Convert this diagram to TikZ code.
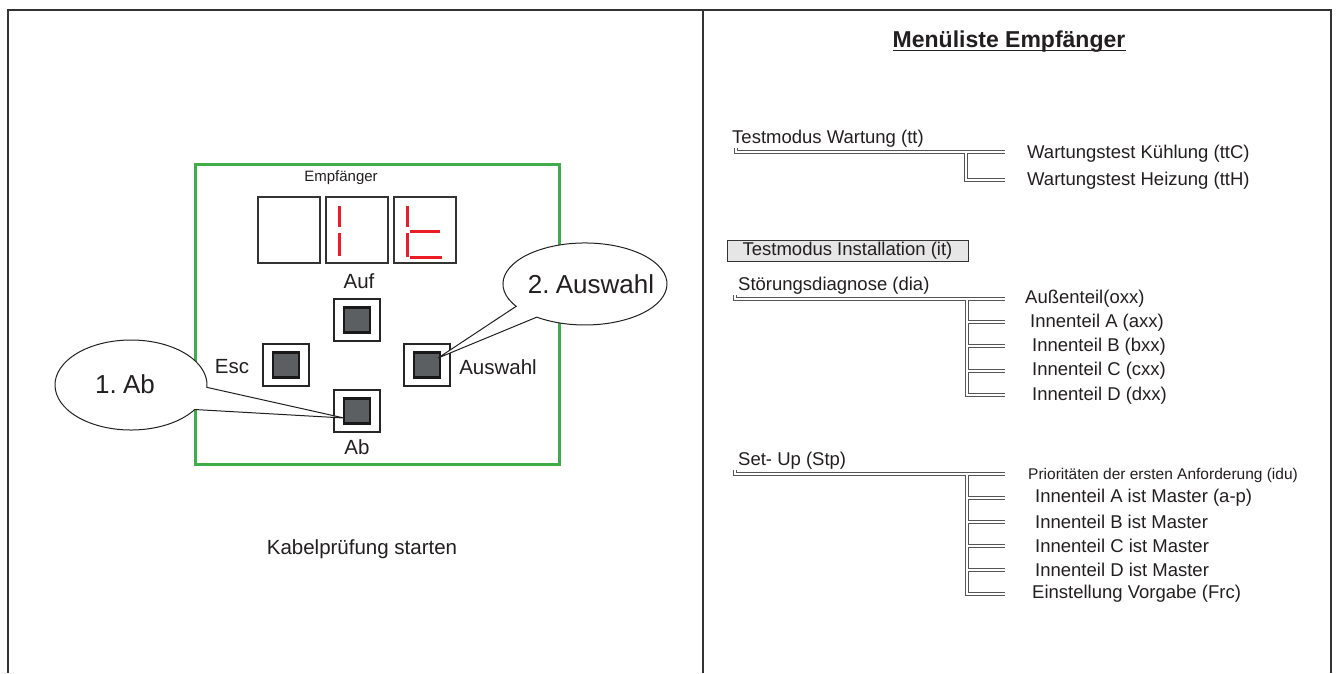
\documentclass[tikz,border=0pt]{standalone}
\usepackage{fontspec}
\setmainfont{Liberation Sans}
\usetikzlibrary{calc}
\definecolor{ink}{HTML}{231F20}
\definecolor{framec}{HTML}{333333}
\definecolor{greenc}{HTML}{3FAE49}
\definecolor{segred}{HTML}{EC1C24}
\definecolor{btnfill}{HTML}{5B5F61}
\definecolor{treec}{HTML}{555555}
\definecolor{boxgray}{HTML}{E6E6E6}
\begin{document}
\begin{tikzpicture}[x=1pt,y=-1pt,
  frameline/.style={draw=framec,line width=1.6pt},
  digitbox/.style={draw=framec,line width=2pt,minimum width=62pt,minimum height=66pt,inner sep=0pt},
  segline/.style={draw=segred,line width=3pt},
  btnouter/.style={draw=black!85,line width=2pt,fill=white,minimum width=46pt,minimum height=42pt,inner sep=0pt},
  btninner/.style={draw=black!90,line width=2.6pt,fill=btnfill,minimum width=26pt,minimum height=25pt,inner sep=0pt},
  lbl/.style={text=ink,inner sep=0pt,font=\fontsize{20.5}{22}\selectfont},
  small/.style={text=ink,inner sep=0pt,font=\fontsize{15}{17}\selectfont},
  callout/.style={draw=ink,line width=1pt,fill=white},
  calltxt/.style={text=ink,inner sep=0pt,font=\fontsize{26}{28}\selectfont},
  treetxt/.style={text=ink,inner sep=0pt,anchor=west,font=\fontsize{18.5}{20}\selectfont},
  treehead/.style={text=ink,inner sep=0pt,anchor=base west,font=\fontsize{18.5}{20}\selectfont},
  treedark/.style={draw=treec,line width=4.2pt,line cap=butt,line join=miter},
  treelight/.style={draw=white,line width=1.9pt,line cap=butt,line join=miter}
]
\useasboundingbox (0,0) rectangle (1336,673);
\fill[white] (0,0) rectangle (1336,673);

% frame
\draw[frameline] (8,673) -- (8,10) -- (1331,10) -- (1331,673);
\draw[frameline] (703,10) -- (703,673);

% ---------- left panel ----------
\draw[draw=greenc,line width=3pt] (195,164) rectangle (559,464);
\node[small] (empf) at (341,178) {Empfänger};
\node[digitbox] (d1) at (289,230) {};
\node[digitbox] (d2) at (356.5,230) {};
\node[digitbox] (d3) at (424.5,230) {};
\draw[segline] (339,206) -- (339,227);
\draw[segline] (339,233) -- (339,256);
\draw[segline] (407,206) -- (407,227);
\draw[segline] (407,233) -- (407,257);
\draw[segline] (410,231) -- (440,231);
\draw[segline] (410,257) -- (442,257);

\node[lbl] (lauf) at (359,281) {Auf};
\node[btnouter] (auf) at (357,320) {};
\node[btninner] (aufin) at (auf) {};
\node[btnouter] (esc) at (286,365) {};
\node[btninner] (escin) at (esc) {};
\node[lbl] (lesc) at (232,367) {Esc};
\node[btnouter] (ausw) at (427,365) {};
\node[btninner] (auswin) at (ausw) {};
\node[lbl] (lausw) at (498,367) {Auswahl};
\node[btnouter] (ab) at (357,411) {};
\node[btninner] (abin) at (ab) {};
\node[lbl] (lab) at (357,447) {Ab};

% callouts
\coordinate (tip1) at (344,418);
\coordinate (tip2) at (438,358);
\draw[callout] (194.74,409.51) arc[start angle=33,end angle=363,x radius=76,y radius=45] -- (tip1) -- cycle;
\node[calltxt] (c1) at (125,384) {1.\kern-1pt\ Ab};
\draw[callout] (516.2,306.3) arc[start angle=147,end angle=486,x radius=82,y radius=41] -- (tip2) -- cycle;
\node[calltxt] (c2) at (591,284) {2.\kern-1pt\ Auswahl};

\node[lbl] (kab) at (362,549) {Kabelprüfung starten};

% ---------- right panel ----------
\node[text=ink,inner sep=0pt,anchor=base,font=\fontsize{23}{25}\selectfont\bfseries] (title) at (1009,47) {Menüliste Empfänger};
\draw[ink,line width=1.4pt] ($(title.base west)+(0,3.5)$) -- ($(title.base east)+(0,3.5)$);

% tree 1
\node[treehead] (tw) at (732,143) {Testmodus Wartung (tt)};
\node[treetxt] (tk) at (1027,154) {Wartungstest Kühlung (ttC)};
\node[treetxt] (th) at (1027,181) {Wartungstest Heizung (ttH)};

% tree 2
\draw[draw=framec,line width=1pt,fill=boxgray] (727,240) rectangle (968,261);
\node[text=ink,inner sep=0pt,font=\fontsize{18.5}{20}\selectfont] (ti) at (847.5,250.5) {Testmodus Installation (it)};
\node[treehead] (sd) at (738,290) {Störungsdiagnose (dia)};
\node[treetxt] (o1) at (1025,299) {Außenteil(oxx)};
\node[treetxt] (o2) at (1030,323) {Innenteil A (axx)};
\node[treetxt] (o3) at (1032,347) {Innenteil B (bxx)};
\node[treetxt] (o4) at (1032,371) {Innenteil C (cxx)};
\node[treetxt] (o5) at (1032,396) {Innenteil D (dxx)};

% tree 3
\node[treehead] (su) at (738,465) {Set- Up (Stp)};
\node[text=ink,inner sep=0pt,anchor=west,font=\fontsize{15.5}{17}\selectfont] (p1) at (1028,475) {Prioritäten der ersten Anforderung (idu)};
\node[treetxt] (p2) at (1035,498) {Innenteil A ist Master (a-p)};
\node[treetxt] (p3) at (1035,522) {Innenteil B ist Master};
\node[treetxt] (p4) at (1035,546) {Innenteil C ist Master};
\node[treetxt] (p5) at (1035,570) {Innenteil D ist Master};
\node[treetxt] (p6) at (1032,594) {Einstellung Vorgabe (Frc)};

\def\treepaths#1{%
  \draw[#1] (736,148) -- (736,152) -- (1005,152);
  \draw[#1] (966,152) -- (966,180) -- (1005,180);
  \draw[#1] (735,295) -- (735,299) -- (1005,299);
  \draw[#1] (967,299) -- (967,395) -- (1005,395);
  \draw[#1] (967,322) -- (1005,322);
  \draw[#1] (967,346) -- (1005,346);
  \draw[#1] (967,371) -- (1005,371);
  \draw[#1] (735,470) -- (735,474) -- (1005,474);
  \draw[#1] (967,474) -- (967,594) -- (1005,594);
  \draw[#1] (967,498) -- (1005,498);
  \draw[#1] (967,522) -- (1005,522);
  \draw[#1] (967,546) -- (1005,546);
  \draw[#1] (967,570) -- (1005,570);
}
\treepaths{treedark}
\treepaths{treelight}
\end{tikzpicture}
\end{document}
